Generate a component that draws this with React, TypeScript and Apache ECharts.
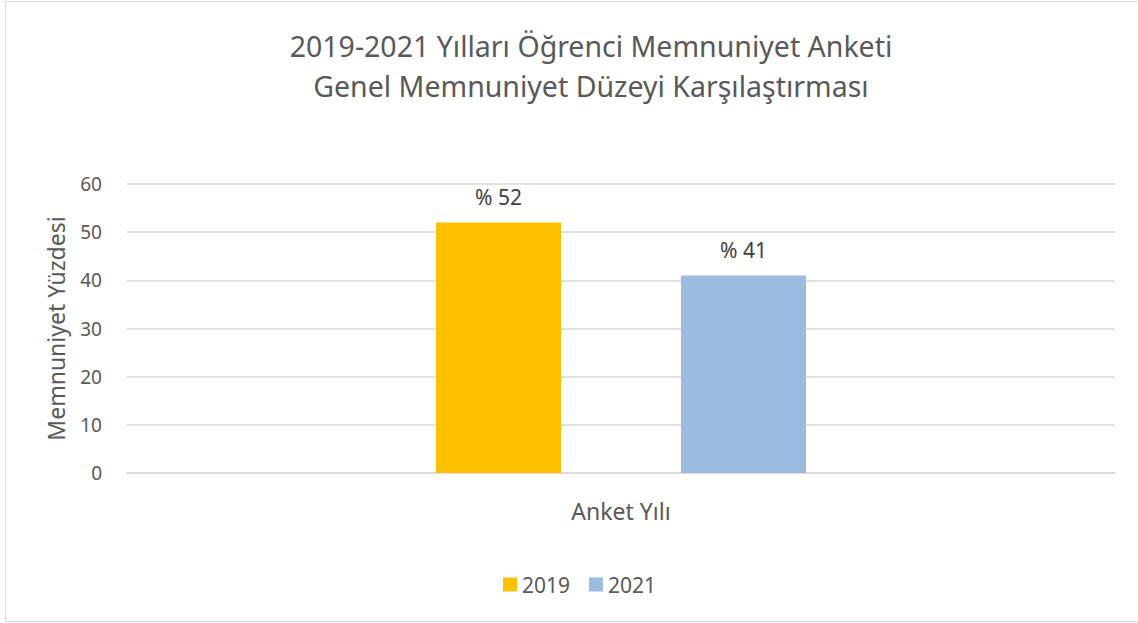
import React, { useEffect, useRef } from "react";
import * as echarts from "echarts";

const titleLines = ["2019-2021 Yılları Öğrenci Memnuniyet Anketi", "Genel Memnuniyet Düzeyi Karşılaştırması"];
const categories = [""];
const xAxisName = "Anket Yılı";
const yAxisName = "Memnuniyet Yüzdesi";
const seriesNames = ["2019", "2021"];
const values2019 = [52];
const values2021 = [41];
const colors = ["#FFC000", "#9BBBE0"];
const yMin = 0;
const yMax = 60;
const yInterval = 10;

const FONT = "'Noto Sans', 'Open Sans', sans-serif";

export default function App() {
  const ref = useRef<HTMLDivElement>(null);
  useEffect(() => {
    document.body.style.margin = "0";
    const chart = echarts.init(ref.current!, null, { renderer: "svg" });
    const label = {
      show: true,
      position: "top",
      distance: 15,
      fontSize: 21,
      fontFamily: FONT,
      color: "#404040",
      formatter: (p: any) => "% " + p.value,
    };
    chart.setOption({
      animation: false,
      backgroundColor: "#ffffff",
      textStyle: { fontFamily: FONT },
      title: {
        text: titleLines.join("\n"),
        left: 586,
        textAlign: "center",
        top: 21,
        textStyle: { fontSize: 28.5, fontWeight: "normal", color: "#595959", lineHeight: 40, fontFamily: FONT },
      },
      graphic: [
        {
          type: "rect",
          shape: { x: 5.5, y: 1.5, width: 1140, height: 620 },
          style: { fill: "none", stroke: "#d9d9d9", lineWidth: 1 },
          silent: true,
        },
      ],
      legend: {
        data: seriesNames,
        bottom: 23,
        left: 498,
        itemWidth: 14,
        itemHeight: 14,
        itemGap: 19,
        icon: "rect",
        textStyle: { fontSize: 21, color: "#595959", fontFamily: FONT },
      },
      grid: { left: 127, right: 23, top: 184, bottom: 150 },
      xAxis: {
        type: "category",
        data: categories,
        name: xAxisName,
        nameLocation: "middle",
        nameGap: 26,
        nameTextStyle: { fontSize: 23, color: "#595959", fontFamily: FONT },
        axisLine: { show: true, lineStyle: { color: "#d9d9d9", width: 1.5 } },
        axisTick: { show: false },
        axisLabel: { show: false },
      },
      yAxis: {
        type: "value",
        min: yMin,
        max: yMax,
        interval: yInterval,
        name: yAxisName,
        nameLocation: "middle",
        nameGap: 60,
        nameTextStyle: { fontSize: 23, color: "#595959", fontFamily: FONT },
        axisLine: { show: false },
        axisTick: { show: false },
        axisLabel: { fontSize: 19, color: "#595959", margin: 25, fontFamily: FONT },
        splitLine: { lineStyle: { color: "#d9d9d9", width: 1.5 } },
      },
      series: [
        {
          name: seriesNames[0],
          type: "bar",
          data: values2019,
          barWidth: 125,
          barGap: "96%",
          itemStyle: { color: colors[0] },
          label,
        },
        {
          name: seriesNames[1],
          type: "bar",
          data: values2021,
          barWidth: 125,
          barGap: "96%",
          itemStyle: { color: colors[1] },
          label,
        },
      ],
    });
    return () => chart.dispose();
  }, []);
  return <div ref={ref} style={{ width: 1138, height: 623, position: "absolute", left: 0, top: 0 }} />;
}
